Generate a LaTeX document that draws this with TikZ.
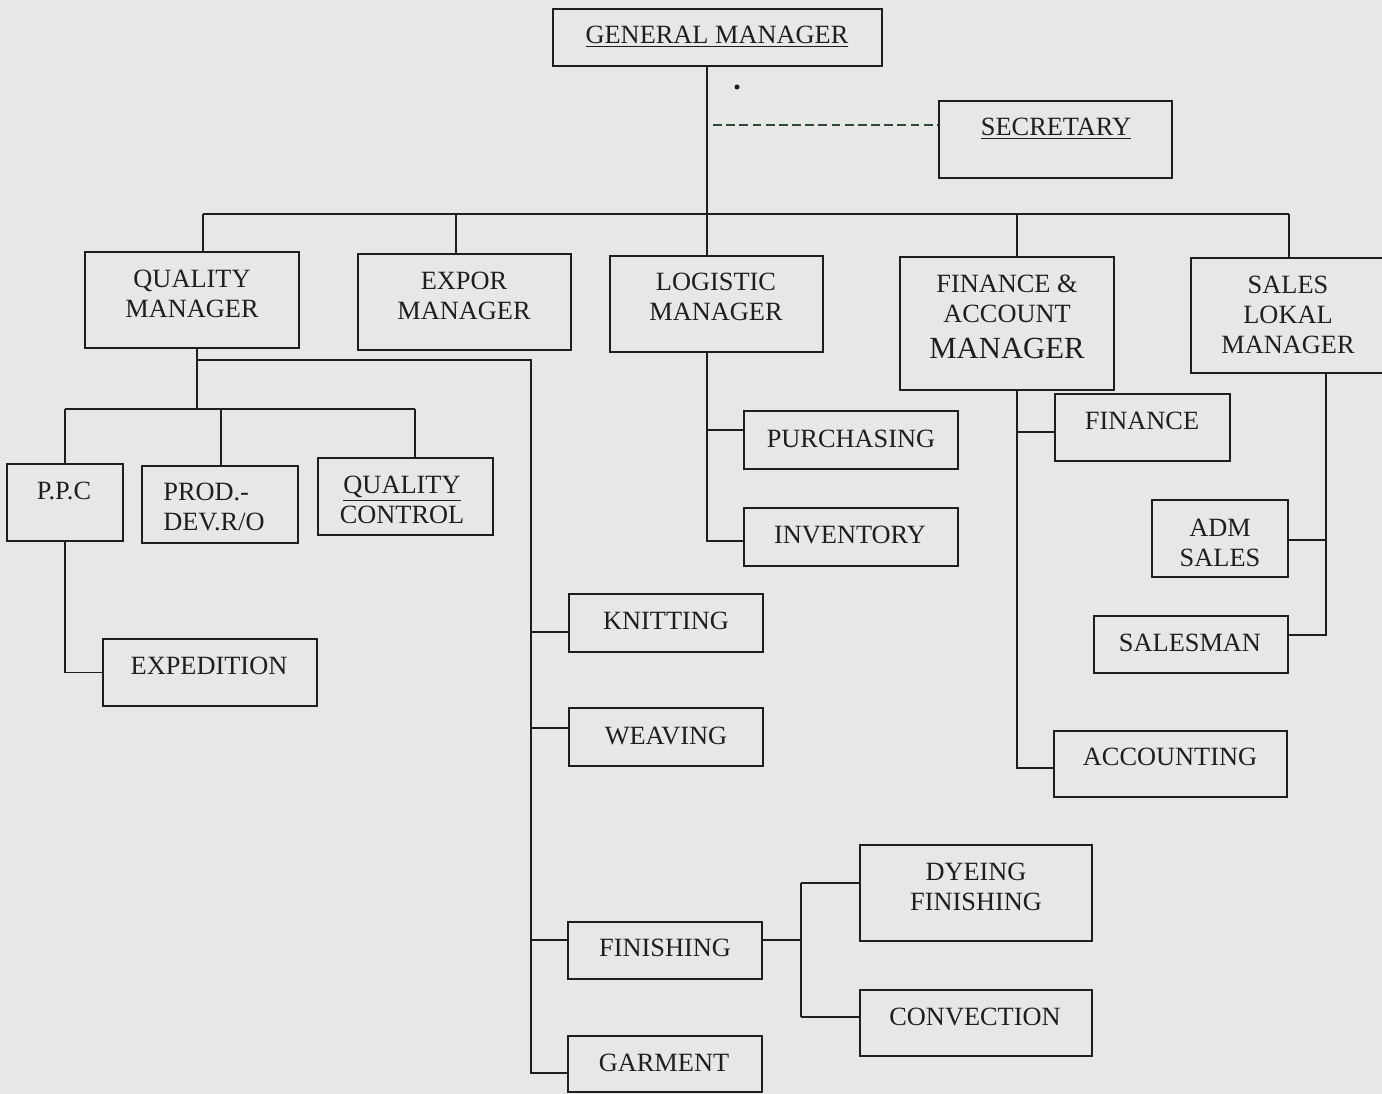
\documentclass[tikz,border=0pt]{standalone}
\usepackage{fontspec}
\setmainfont{Liberation Serif}
\usepackage{xcolor}
\usepackage{tikz}
\usetikzlibrary{fit}
\usetikzlibrary{calc}
\definecolor{paper}{HTML}{E7E8E6}
\definecolor{ink}{HTML}{1E1E1E}
\definecolor{dashink}{HTML}{2C4A3A}

\tikzset{
  unit/.style={draw=ink, line width=0.9pt, inner sep=0pt, fit={#1}},
  txt/.style={text=ink, font=\fontsize{15}{17}\selectfont, align=center, inner sep=0pt},
  link/.style={draw=ink, line width=0.7pt},
}

\begin{document}
\begin{tikzpicture}[x=0.02cm, y=-0.02cm]
  \fill[paper] (0,0) rectangle (1382,1094);
  \useasboundingbox (0,0) rectangle (1382,1094);

  % top level
  \node[unit={(553,9) (882,66)}] (gm) {};
  \node[txt] (gm-t) at (717,37) {\underline{GENERAL MANAGER}};
  \node[unit={(939,101) (1172,178)}] (sec) {};
  \node[txt] (sec-t) at (1056,129) {\underline{SECRETARY}};
  \fill[ink] (737,87) circle (2.5);

  % managers
  \node[unit={(85,252) (299,348)}] (qm) {};
  \node[txt] (qm-t) at (192,294) {QUALITY\\MANAGER};
  \node[unit={(358,254) (571,350)}] (ex) {};
  \node[txt] (ex-t) at (464,296) {EXPOR\\MANAGER};
  \node[unit={(610,256) (823,352)}] (lg) {};
  \node[txt] (lg-t) at (716,297) {LOGISTIC\\MANAGER};
  \node[unit={(900,257) (1114,390)}] (fa) {};
  \node[txt] (fa-t) at (1007,317) {FINANCE \&\\ACCOUNT\\[4pt]{\fontsize{17.5}{19}\selectfont MANAGER}};
  \node[unit={(1191,258) (1386,373)}] (sl) {};
  \node[txt] (sl-t) at (1288,315) {SALES\\LOKAL\\MANAGER};

  % quality branch
  \node[unit={(7,464) (123,541)}] (ppc) {};
  \node[txt] (ppc-t) at (64,491) {P.P.C};
  \node[unit={(142,466) (298,543)}] (pd) {};
  \node[txt, align=left, anchor=west] (pd-t) at (163,507) {PROD.-\\DEV.R/O};
  \node[unit={(318,458) (493,535)}] (qc) {};
  \node[txt] (qc-t) at (402,500) {\underline{QUALITY}\\CONTROL};
  \node[unit={(103,639) (317,706)}] (exp) {};
  \node[txt] (exp-t) at (209,666) {EXPEDITION};

  % production line
  \node[unit={(569,594) (763,652)}] (kn) {};
  \node[txt] (kn-t) at (666,621) {KNITTING};
  \node[unit={(569,708) (763,766)}] (wv) {};
  \node[txt] (wv-t) at (666,736) {WEAVING};
  \node[unit={(568,922) (762,979)}] (fn) {};
  \node[txt] (fn-t) at (665,948) {FINISHING};
  \node[unit={(568,1036) (762,1092)}] (gr) {};
  \node[txt] (gr-t) at (664,1063) {GARMENT};
  \node[unit={(860,845) (1092,941)}] (df) {};
  \node[txt] (df-t) at (976,887) {DYEING\\FINISHING};
  \node[unit={(860,990) (1092,1056)}] (cv) {};
  \node[txt] (cv-t) at (975,1017) {CONVECTION};

  % logistic, finance, sales
  \node[unit={(744,411) (958,469)}] (pu) {};
  \node[txt] (pu-t) at (851,439) {PURCHASING};
  \node[unit={(744,508) (958,566)}] (inv) {};
  \node[txt] (inv-t) at (850,535) {INVENTORY};
  \node[unit={(1055,394) (1230,461)}] (fi) {};
  \node[txt] (fi-t) at (1142,421) {FINANCE};
  \node[unit={(1054,731) (1287,797)}] (ac) {};
  \node[txt] (ac-t) at (1170,757) {ACCOUNTING};
  \node[unit={(1152,500) (1288,577)}] (adm) {};
  \node[txt] (adm-t) at (1220,543) {ADM\\SALES};
  \node[unit={(1094,616) (1288,673)}] (sm) {};
  \node[txt] (sm-t) at (1190,643) {SALESMAN};

  % junctions
  \coordinate (trunk) at (707,214);
  \coordinate (busL) at (203,214);
  \coordinate (busR) at (1289,214);
  \coordinate (exj) at (456,214);
  \coordinate (faj0) at (1017,214);
  \coordinate (secj) at (713,125);
  \coordinate (qmj) at (197,409);
  \coordinate (prodj) at (531,360);
  \coordinate (lgj) at (707,430);
  \coordinate (faj) at (1017,432);
  \coordinate (slj) at (1326,540);
  \coordinate (fnj) at (801,883);

  % connectors
  \draw[link] (trunk |- gm.south) -- (trunk |- lg.north);
  \draw[link] (busL) -- (busR);
  \draw[link] (busL) -- (busL |- qm.north);
  \draw[link] (exj) -- (exj |- ex.north);
  \draw[link] (faj0) -- (faj0 |- fa.north);
  \draw[link] (busR) -- (busR |- sl.north);
  \draw[link, draw=dashink, dashed, dash pattern=on 5pt off 2.5pt] (secj) -- (secj -| sec.west);

  \draw[link] (qmj |- qm.south) -- (qmj);
  \draw[link] (qmj -| ppc.north) -- (qmj -| 415,0);
  \draw[link] (qmj -| ppc.north) -- (ppc.north);
  \draw[link] (qmj -| 221,0) -- (pd.north -| 221,0);
  \draw[link] (qmj -| 415,0) -- (qc.north -| 415,0);
  \draw[link] (ppc.south) |- (exp.west);

  \draw[link] (prodj -| qmj) -- (prodj) -- (prodj |- 0,1073) -- (gr.west |- 0,1073);
  \draw[link] (prodj |- 0,632) -- (kn.west |- 0,632);
  \draw[link] (prodj |- 0,728) -- (wv.west |- 0,728);
  \draw[link] (prodj |- 0,940) -- (fn.west |- 0,940);
  \draw[link] (fn.east |- 0,940) -- (fnj |- 0,940);
  \draw[link] (fnj) -- (fnj |- 0,1017);
  \draw[link] (fnj) -- (fnj -| df.west);
  \draw[link] (fnj |- 0,1017) -- (cv.west |- 0,1017);

  \draw[link] (lgj |- lg.south) -- (lgj |- 0,541) -- (inv.west |- 0,541);
  \draw[link] (lgj) -- (lgj -| pu.west);

  \draw[link] (faj |- fa.south) -- (faj |- 0,768) -- (ac.west |- 0,768);
  \draw[link] (faj) -- (faj -| fi.west);

  \draw[link] (slj |- sl.south) -- (slj |- 0,635) -- (sm.east |- 0,635);
  \draw[link] (slj) -- (slj -| adm.east);
\end{tikzpicture}
\end{document}
